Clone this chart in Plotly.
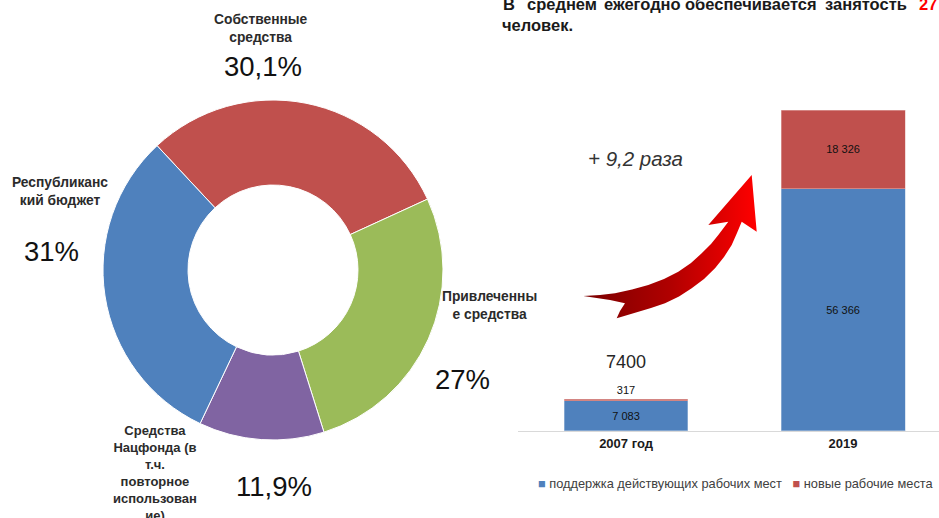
import plotly.graph_objects as go

# --- donut: funding sources (%)
src_labels = ["Собственные<br>средства", "Привлеченны<br>е средства",
              "Средства<br>Нацфонда (в<br>т.ч.<br>повторное<br>использован<br>ие)",
              "Республиканс<br>кий бюджет"]
src_share = [30.1, 27.0, 11.9, 31.0]
src_text = ["30,1%", "27%", "11,9%", "31%"]
src_colors = ["#C0504D", "#9BBB59", "#8064A2", "#4F81BD"]

# --- stacked bars: jobs
years = ["2007 год", "2019"]
jobs_kept = [7083, 56366]
jobs_new = [317, 18326]
kept_text = ["7 083", "56 366"]
new_text = ["317", "18 326"]
total_text = ["7400", "67 969"]

W, H = 939, 518


def px(x):
    return x / W


def py(y):
    return 1 - y / H


fig = go.Figure()

fig.add_trace(go.Pie(
    values=src_share, labels=src_labels, sort=False, direction="clockwise",
    rotation=-43, hole=0.5, textinfo="none", showlegend=False,
    marker=dict(colors=src_colors, line=dict(color="white", width=1)),
    domain=dict(x=[px(103), px(443)], y=[py(440), py(100)]),
))

fig.add_trace(go.Bar(
    x=years, y=jobs_kept, name="поддержка действующих рабочих мест",
    marker=dict(color="#4F81BD", line=dict(color="#B8CCE4", width=0.5)),
    text=kept_text, textposition="inside", insidetextanchor="middle",
    textfont=dict(family="Liberation Sans", size=11, color="#111111"),
    width=0.571, showlegend=False,
))
fig.add_trace(go.Bar(
    x=years, y=jobs_new, name="новые рабочие места",
    marker=dict(color="#C0504D", line=dict(color="#E6B9B8", width=0.5)),
    text=new_text, textposition=["outside", "inside"], insidetextanchor="middle",
    textfont=dict(family="Liberation Sans", size=11, color="#111111"),
    width=0.571, showlegend=False, cliponaxis=False,
))

# curved arrow (decoration), drawn on a full-page pixel axis
arrow_x = [583.3, 600, 615, 632, 648.3, 664, 678.3, 691, 701.7, 711, 718.3, 724, 728.3,
           708.3, 751.7, 756.7, 741.7,
           737, 731.7, 724, 715, 704, 691.7, 679, 665, 651, 638.3, 626, 616.7,
           620, 625, 610, 595, 583.3]
arrow_y = [296, 295, 293.3, 289.5, 285, 279, 271.7, 263, 253.3, 244, 235, 228, 221.7,
           225, 175, 231.7, 221.7,
           233, 245, 257, 268.3, 279, 288.3, 296.5, 303.3, 308, 311.7, 315, 318.3,
           311, 303.3, 300, 297.5, 296]
fig.add_trace(go.Scatter(
    x=arrow_x, y=arrow_y, xaxis="x2", yaxis="y2", mode="lines",
    line=dict(width=0, color="#C00000"), fill="toself",
    fillgradient=dict(type="horizontal",
                      colorscale=[[0, "#7A0000"], [0.5, "#B00000"], [1, "#FF0000"]]),
    hoverinfo="skip", showlegend=False,
))

P = dict(xref="paper", yref="paper", showarrow=False, xanchor="center", yanchor="middle")
ann = []
label_pos = [(261, 28), (489, 305), (155, 473), (60, 192)]
label_size = [13.8, 13.8, 13, 13.8]
pct_pos = [(263, 67), (462, 379), (274, 486), (51, 251)]
for lab, (x, y), sz in zip(src_labels, label_pos, label_size):
    ann.append(dict(P, x=px(x), y=py(y), text="<b>" + lab + "</b>",
                    font=dict(family="Liberation Sans", size=sz, color="#2b2b2b")))
for t, (x, y) in zip(src_text, pct_pos):
    ann.append(dict(P, x=px(x), y=py(y), text=t,
                    font=dict(family="Liberation Sans", size=27.5, color="#111111")))

# totals above bars
for i, (yr, t) in enumerate(zip(years, total_text)):
    tot = jobs_kept[i] + jobs_new[i]
    ann.append(dict(x=yr, y=tot, xref="x", yref="y", text=t, showarrow=False,
                    xanchor="center", yanchor="bottom",
                    yshift=25 if i == 0 else 5,
                    font=dict(family="Liberation Sans", size=18, color="#262626")))

ann.append(dict(P, x=px(586), y=py(158), xanchor="left", text="<i>+ 9,2 раза</i>",
                font=dict(family="Liberation Sans", size=20.5, color="#333333")))

# header text (cut off at the top of the frame)
words = [("В", 501), ("среднем", 525), ("ежегодно", 602), ("обеспечивается", 683),
         ("занятость", 823)]
for w, x in words:
    ann.append(dict(P, x=px(x), y=py(4), xanchor="left", text="<b>" + w + "</b>",
                    font=dict(family="Liberation Sans", size=16.5, color="#1a1a1a")))
ann.append(dict(P, x=px(917), y=py(4), xanchor="left", text="<b>27</b>",
                font=dict(family="Liberation Sans", size=16.5, color="#FF0000")))
ann.append(dict(P, x=px(500), y=py(25), xanchor="left", text="<b>человек.</b>",
                font=dict(family="Liberation Sans", size=16.5, color="#1a1a1a")))

# legend
ann.append(dict(P, x=px(536), y=py(483), xanchor="left",
                text="<span style='color:#4F81BD'>■</span> поддержка действующих рабочих мест"
                     "   <span style='color:#C0504D'>■</span> новые рабочие места",
                font=dict(family="Liberation Sans", size=12.8, color="#404040")))

fig.update_layout(
    width=W, height=H, margin=dict(l=0, r=0, t=0, b=0),
    paper_bgcolor="white", plot_bgcolor="rgba(0,0,0,0)",
    barmode="stack",
    xaxis=dict(domain=[px(517.5), 1.0], range=[-0.5, 1.442], showline=True,
               linecolor="#D9D9D9", linewidth=1, ticks="", showgrid=False,
               tickfont=dict(family="Liberation Sans", size=13, color="#1a1a1a"),
               tickprefix="<b>", ticksuffix="</b>"),
    yaxis=dict(domain=[py(431), py(87.2)], range=[0, 80000], visible=False),
    xaxis2=dict(domain=[0, 1], range=[0, W], visible=False, anchor="y2"),
    yaxis2=dict(domain=[0, 1], range=[H, 0], visible=False, anchor="x2"),
    annotations=ann,
)

fig.write_html("out.html", config={"displayModeBar": False},
               post_script="document.body.style.margin='0';")
